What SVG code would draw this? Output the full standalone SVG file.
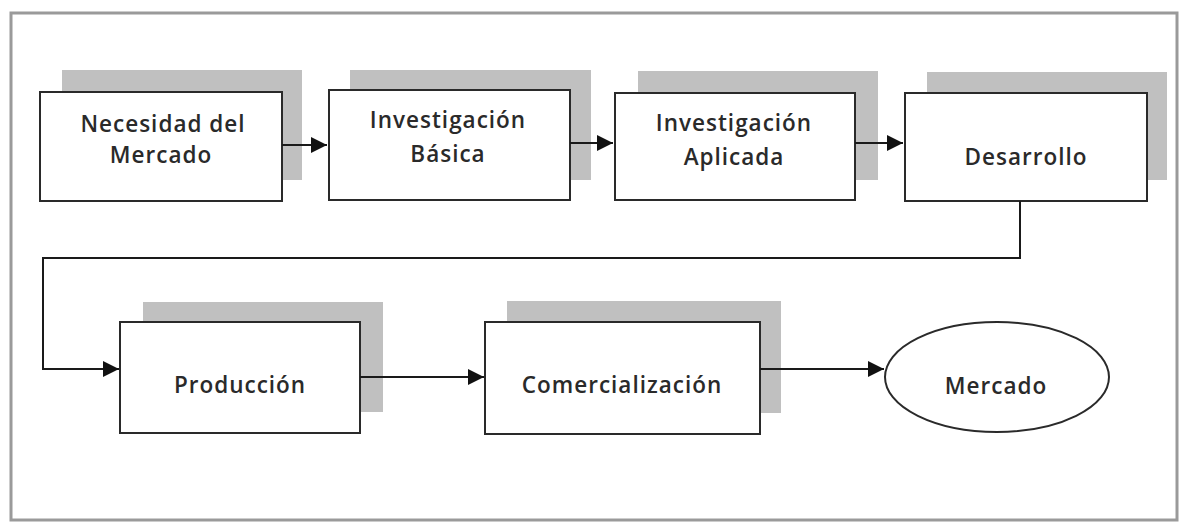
<svg xmlns="http://www.w3.org/2000/svg" width="1185" height="523" viewBox="0 0 1185 523">
<style>
.shadow{fill:#c0c0c0;stroke:none}
.box{fill:#fff;stroke:#2a2a2a;stroke-width:2}
.lbl{font-family:"Open Sans","Liberation Sans",sans-serif;font-size:22.5px;font-weight:600;letter-spacing:1px;fill:#2a2a2a;text-anchor:middle}
.conn{fill:none;stroke:#1a1a1a;stroke-width:2}
</style>
<defs>
<marker id="ah" viewBox="0 0 10 10" refX="10" refY="5" markerWidth="8" markerHeight="8" markerUnits="strokeWidth" orient="auto">
<path d="M0,0 L10,5 L0,10 z" fill="#111"/>
</marker>
</defs>
<rect x="0" y="0" width="1185" height="523" fill="#fff"/>
<rect id="frame" x="11" y="13" width="1166" height="507" fill="none" stroke="#9a9a9a" stroke-width="3"/>

<g id="necesidad">
<rect class="shadow" x="62" y="70" width="240" height="110"/>
<rect class="box" x="40" y="92" width="242" height="109"/>
<text class="lbl" x="163" y="132">Necesidad del</text>
<text class="lbl" x="161" y="163">Mercado</text>
</g>
<g id="basica">
<rect class="shadow" x="350" y="70" width="241" height="110"/>
<rect class="box" x="329" y="90" width="241" height="110"/>
<text class="lbl" x="448" y="128">Investigación</text>
<text class="lbl" x="448" y="162">Básica</text>
</g>
<g id="aplicada">
<rect class="shadow" x="638" y="71" width="240" height="109"/>
<rect class="box" x="615" y="93" width="240" height="107"/>
<text class="lbl" x="734" y="131">Investigación</text>
<text class="lbl" x="734" y="165">Aplicada</text>
</g>
<g id="desarrollo">
<rect class="shadow" x="927" y="72" width="240" height="108"/>
<rect class="box" x="905" y="93" width="242" height="108"/>
<text class="lbl" x="1026" y="165">Desarrollo</text>
</g>
<g id="produccion">
<rect class="shadow" x="143" y="302" width="240" height="110"/>
<rect class="box" x="120" y="322" width="240" height="111"/>
<text class="lbl" x="240" y="393">Producción</text>
</g>
<g id="comercializacion">
<rect class="shadow" x="507" y="301" width="274" height="112"/>
<rect class="box" x="485" y="322" width="275" height="112"/>
<text class="lbl" x="622" y="393">Comercialización</text>
</g>
<g id="mercado">
<ellipse class="box" cx="997" cy="377" rx="112" ry="55"/>
<text class="lbl" x="996" y="394">Mercado</text>
</g>

<g id="connectors">
<path class="conn" d="M282,145 L327,145" marker-end="url(#ah)"/>
<path class="conn" d="M570,143 L613,143" marker-end="url(#ah)"/>
<path class="conn" d="M855,143 L903,143" marker-end="url(#ah)"/>
<path class="conn" d="M1020,201 L1020,258 L43,258 L43,369 L119,369" marker-end="url(#ah)"/>
<path class="conn" d="M360,377 L484,377" marker-end="url(#ah)"/>
<path class="conn" d="M760,369 L884,369" marker-end="url(#ah)"/>
</g>
</svg>
